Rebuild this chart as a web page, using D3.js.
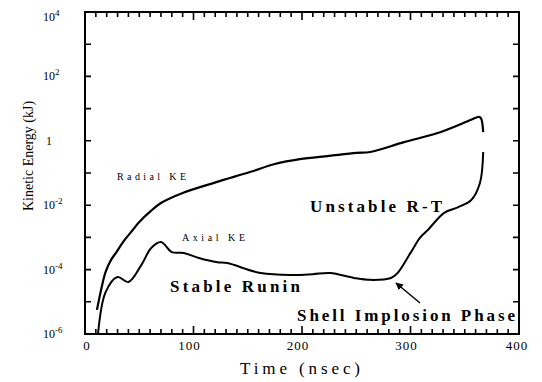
<!DOCTYPE html>
<html>
<head>
<meta charset="utf-8">
<script src="https://cdn.jsdelivr.net/npm/d3@7"></script>
<style>
    body { margin: 0; background: #fff; }
</style>
</head>
<body>
<svg id="chart" width="542" height="382" font-family="'Liberation Serif', 'DejaVu Serif', serif"></svg>
<script>
// time in nsec, kinetic energy in kJ
const radialTime = [11, 15, 19, 24, 29, 36, 44, 50, 60, 70, 90, 121, 152, 175, 198, 225, 250, 263, 294, 325, 356, 363, 365, 367];
const radialKE = [5.6e-6, 2.5e-5, 8.5e-5, 2.0e-4, 3.5e-4, 7.9e-4, 1.7e-3, 3.0e-3, 6.3e-3, 0.0117, 0.024, 0.052, 0.107, 0.19, 0.27, 0.34, 0.42, 0.45, 0.91, 1.74, 4.5, 5.5, 5.0, 1.86];

const axialTime = [12, 19, 30, 40, 52, 61, 70, 80, 91, 105, 122, 131, 162, 192, 210, 226, 248, 263, 282, 288, 300, 309, 316, 331, 344, 356, 364, 367];
const axialKE = [1.0e-6, 2.0e-5, 5.9e-5, 4.1e-5, 1.4e-4, 4.7e-4, 7.2e-4, 3.5e-4, 3.3e-4, 2.3e-4, 1.7e-4, 1.6e-4, 7.8e-5, 6.8e-5, 7.2e-5, 7.8e-5, 5.5e-5, 4.8e-5, 5.5e-5, 7.8e-5, 3.3e-4, 1.0e-3, 1.7e-3, 5.8e-3, 8.7e-3, 0.0145, 0.049, 0.45];

const xTickLabels = [0, 100, 200, 300, 400];
const yTickExps = [4, 2, 0, -2, -4, -6];

let svg = d3.select("#chart");
let plot = { left: 85, right: 519, top: 12, bottom: 334 };
let x = d3.scaleLinear().domain([0, 400]).range([plot.left, plot.right]);
let y = d3.scaleLog().domain([1e-6, 1e4]).range([plot.bottom, plot.top]);

let decades = d3.range(-6, 5).map(e => Math.pow(10, e));
let timeTicks = d3.range(10, 400, 10);

// all tick marks as one path built from the scales
let tlen = d => d % 100 === 0 ? 8 : 5;
let p = d3.path();
timeTicks.forEach(d => {
    p.moveTo(x(d), plot.bottom); p.lineTo(x(d), plot.bottom - tlen(d));
    p.moveTo(x(d), plot.top); p.lineTo(x(d), plot.top + tlen(d));
});
decades.forEach(d => {
    p.moveTo(plot.left, y(d)); p.lineTo(plot.left + 6, y(d));
    p.moveTo(plot.right, y(d)); p.lineTo(plot.right - 6, y(d));
});
svg.append("path")
    .attr("d", p.toString())
    .attr("fill", "none")
    .attr("stroke", "#000")
    .attr("stroke-width", 1.6);

// frame
svg.append("rect")
    .attr("x", plot.left).attr("y", plot.top)
    .attr("width", plot.right - plot.left).attr("height", plot.bottom - plot.top)
    .attr("fill", "none")
    .attr("stroke", "#000")
    .attr("stroke-width", 2);

// y tick labels
yTickExps.forEach(e => {
    let t = svg.append("text")
        .attr("x", e === 0 ? 46 : 43)
        .attr("y", y(Math.pow(10, e)) + 4 + (e === 4 ? 5 : 0))
        .style("font-size", "12px");
    if (e === 0) {
        t.text("1");
    } else {
        t.append("tspan").text("10");
        t.append("tspan")
            .attr("dy", -5)
            .style("font-size", "9px")
            .text(e);
    }
});

// x tick labels
svg.selectAll(".xlab")
    .data(xTickLabels).enter()
    .append("text")
    .attr("class", "xlab")
    .attr("x", d => x(d) - (d === 0 ? -2 : (d === 400 ? 2 : 4)))
    .attr("y", 350)
    .attr("text-anchor", "middle")
    .style("font-size", "13px")
    .style("letter-spacing", "1px")
    .text(d => d);

// axis titles
svg.append("text")
    .attr("x", 300).attr("y", 374)
    .attr("text-anchor", "middle")
    .attr("textLength", 120)
    .attr("lengthAdjust", "spacing")
    .style("font-size", "17px")
    .text("Time (nsec)");

svg.append("text")
    .attr("transform", "translate(33,156) rotate(-90)")
    .attr("text-anchor", "middle")
    .style("font-size", "14px")
    .text("Kinetic Energy (kJ)");

// curves
let line = d3.line()
    .x(d => x(d[0]))
    .y(d => y(d[1]))
    .curve(d3.curveCatmullRom.alpha(0.5));

svg.append("path")
    .datum(radialTime.map((t, i) => [t, radialKE[i]]))
    .attr("d", line)
    .attr("fill", "none")
    .attr("stroke", "#000")
    .attr("stroke-width", 2.2);

svg.append("path")
    .datum(axialTime.map((t, i) => [t, axialKE[i]]))
    .attr("d", line)
    .attr("fill", "none")
    .attr("stroke", "#000")
    .attr("stroke-width", 2);

// annotations
svg.append("text")
    .attr("x", 117).attr("y", 180)
    .attr("textLength", 69).attr("lengthAdjust", "spacing")
    .style("font-size", "10px")
    .text("Radial KE");

svg.append("text")
    .attr("x", 182).attr("y", 241)
    .attr("textLength", 63).attr("lengthAdjust", "spacing")
    .style("font-size", "10px")
    .text("Axial KE");

svg.append("text")
    .attr("x", 170).attr("y", 292)
    .attr("textLength", 130).attr("lengthAdjust", "spacing")
    .style("font-size", "17px").style("font-weight", "bold")
    .text("Stable Runin");

svg.append("text")
    .attr("x", 310).attr("y", 212)
    .attr("textLength", 132).attr("lengthAdjust", "spacing")
    .style("font-size", "17px").style("font-weight", "bold")
    .text("Unstable R-T");

svg.append("text")
    .attr("x", 297).attr("y", 321)
    .attr("textLength", 218).attr("lengthAdjust", "spacing")
    .style("font-size", "17px").style("font-weight", "bold")
    .text("Shell Implosion Phase");

// arrow
svg.append("defs").append("marker")
    .attr("id", "head")
    .attr("viewBox", "0 0 10 10")
    .attr("refX", 9).attr("refY", 5)
    .attr("markerWidth", 5).attr("markerHeight", 5)
    .attr("orient", "auto")
    .append("path")
    .attr("d", "M0,0 L10,5 L0,10 z")
    .attr("fill", "#000");

svg.append("line")
    .attr("x1", 420).attr("y1", 303)
    .attr("x2", 396).attr("y2", 283)
    .attr("stroke", "#000")
    .attr("stroke-width", 1.5)
    .attr("marker-end", "url(#head)");
</script>
</body>
</html>
